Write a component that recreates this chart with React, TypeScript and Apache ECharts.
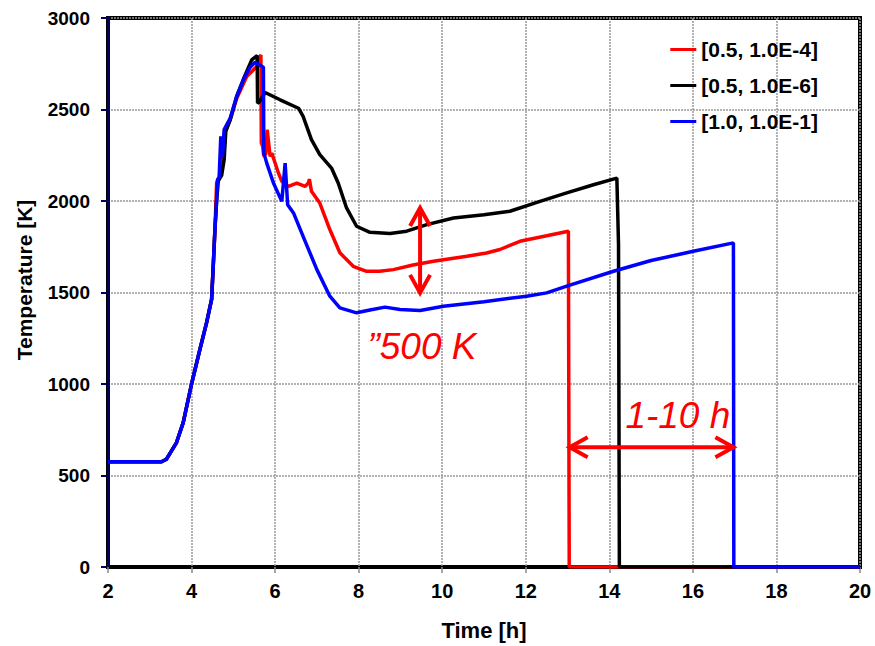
import React, { useEffect, useRef } from "react";
import * as echarts from "echarts";

const seriesNames = ["[0.5, 1.0E-4]", "[0.5, 1.0E-6]", "[1.0, 1.0E-1]"];
const seriesColors = ["#ff0000", "#000000", "#0000ff"];

const redSeries: [number, number][] = [
  [2, 575], [3.28, 575], [3.4, 589], [3.64, 680], [3.8, 789], [4.0, 1000], [4.2, 1189],
  [4.36, 1335], [4.48, 1462], [4.52, 1650], [4.56, 1844], [4.6, 2100], [4.66, 2120],
  [4.7, 2200], [4.74, 2330], [4.8, 2380], [4.92, 2440], [5.08, 2560], [5.32, 2680],
  [5.56, 2735], [5.64, 2790], [5.66, 2798], [5.67, 2318], [5.7, 2300], [5.73, 2244],
  [5.78, 2260], [5.81, 2389], [5.84, 2330], [5.88, 2244], [5.92, 2262], [6.08, 2153],
  [6.16, 2107], [6.32, 2080], [6.52, 2098], [6.72, 2080], [6.8, 2100], [6.82, 2120],
  [6.87, 2053], [7.07, 1989], [7.31, 1844], [7.55, 1717], [7.87, 1643], [8.19, 1616],
  [8.5, 1616], [8.83, 1625], [9.3, 1650], [9.79, 1671], [10.59, 1698], [11.06, 1716],
  [11.38, 1735], [11.86, 1780], [12.5, 1810], [13.02, 1835], [13.04, 0], [20, 0],
];

const blackSeries: [number, number][] = [
  [2, 575], [3.28, 575], [3.4, 589], [3.64, 680], [3.8, 789], [4.0, 1000], [4.2, 1189],
  [4.36, 1335], [4.48, 1462], [4.52, 1650], [4.56, 1850], [4.6, 2000], [4.64, 2110],
  [4.72, 2140], [4.78, 2226], [4.82, 2380], [4.92, 2440], [5.08, 2571], [5.24, 2665],
  [5.44, 2771], [5.57, 2795], [5.58, 2535], [5.62, 2540], [5.76, 2593], [6.12, 2553],
  [6.56, 2507], [6.67, 2462], [6.87, 2335], [7.07, 2253], [7.35, 2180], [7.51, 2098],
  [7.71, 1962], [7.95, 1862], [8.27, 1829], [8.75, 1822], [9.15, 1835], [9.63, 1871],
  [10.27, 1907], [11.0, 1925], [11.62, 1944], [12.34, 1998], [12.98, 2044], [13.62, 2089],
  [14.18, 2125], [14.22, 1760], [14.24, 0], [20, 0],
];

const blueSeries: [number, number][] = [
  [2, 575], [3.28, 575], [3.4, 589], [3.64, 680], [3.8, 789], [4.0, 1000], [4.2, 1189],
  [4.36, 1335], [4.48, 1462], [4.52, 1650], [4.56, 1844], [4.6, 2000], [4.62, 2116],
  [4.66, 2130], [4.7, 2353], [4.74, 2235], [4.78, 2390], [4.92, 2450], [5.08, 2571],
  [5.24, 2662], [5.4, 2730], [5.52, 2758], [5.72, 2731], [5.73, 2262], [5.8, 2207],
  [5.96, 2098], [6.16, 1998], [6.24, 2207], [6.3, 1980], [6.44, 1935], [6.67, 1807],
  [7.0, 1625], [7.31, 1480], [7.55, 1416], [7.95, 1389], [8.27, 1404], [8.63, 1420],
  [8.99, 1407], [9.47, 1402], [10.03, 1425], [11.0, 1450], [12.02, 1480], [12.5, 1498],
  [12.98, 1535], [14.1, 1616], [15.0, 1675], [16.01, 1725], [16.97, 1771], [16.98, 0],
  [20, 0],
];

// annotation arrows: [x1, y1, x2, y2] in data units
const annotationArrows: [number, number, number, number][] = [
  [9.47, 1962, 9.47, 1498],
  [13.05, 655, 16.97, 655],
];
// annotation texts: [x, y] in data units
const annotationTextPoints: [number, number][] = [
  [9.515, 1205],
  [15.64, 829],
];
const annotationTexts = ["\u201d500 K", "1-10 h"];

const xTicks = { min: 2, max: 20, interval: 2 };
const yTicks = { min: 0, max: 3000, interval: 500 };

const FONT = '"Liberation Sans", Arial, sans-serif';

export default function App() {
  const ref = useRef<HTMLDivElement>(null);

  useEffect(() => {
    if (!ref.current) return;
    const chart = echarts.init(ref.current, undefined, { renderer: "svg" });
    const dataSets = [redSeries, blackSeries, blueSeries];

    const option: any = {
      animation: false,
      backgroundColor: "#ffffff",
      grid: {
        left: 108,
        right: 15,
        top: 18,
        bottom: 78,
        show: true,
        borderColor: "#000",
        borderWidth: 4,
        backgroundColor: "transparent",
      },
      legend: {
        data: seriesNames,
        orient: "vertical",
        right: 52,
        top: 34,
        icon: "rect",
        itemWidth: 26,
        itemHeight: 3,
        itemGap: 15,
        textStyle: {
          fontSize: 21,
          fontWeight: "bold",
          fontFamily: FONT,
          color: "#000",
          lineHeight: 21,
        },
      },
      xAxis: {
        type: "value",
        min: xTicks.min,
        max: xTicks.max,
        interval: xTicks.interval,
        name: "Time [h]",
        nameLocation: "middle",
        nameGap: 63,
        nameTextStyle: {
          fontSize: 22,
          fontWeight: "bold",
          fontFamily: FONT,
          color: "#000",
          verticalAlign: "middle",
        },
        axisLine: { show: true, onZero: false, lineStyle: { color: "#000", width: 3 } },
        axisTick: { show: true, length: 6, lineStyle: { color: "#888", width: 1.5 } },
        axisLabel: {
          margin: 14,
          fontSize: 20,
          fontWeight: "bold",
          fontFamily: FONT,
          color: "#000",
          formatter: (v: number) => String(v),
        },
        splitLine: {
          show: true,
          lineStyle: { color: "#999999", width: 1.5, type: [2, 1] },
        },
      },
      yAxis: {
        type: "value",
        min: yTicks.min,
        max: yTicks.max,
        interval: yTicks.interval,
        axisLine: { show: true, onZero: false, lineStyle: { color: "#000060", width: 3 } },
        axisTick: { show: true, length: 7, lineStyle: { color: "#000060", width: 2 } },
        axisLabel: {
          margin: 18,
          fontSize: 19,
          fontWeight: "bold",
          fontFamily: FONT,
          color: "#000",
          formatter: (v: number) => String(v),
        },
        splitLine: {
          show: true,
          lineStyle: { color: "#999999", width: 1.5, type: [2, 1] },
        },
      },
      graphic: [
        {
          type: "text",
          x: 24,
          y: 280,
          rotation: Math.PI / 2,
          style: {
            text: "Temperature [K]",
            font: `bold 21px ${FONT}`,
            fill: "#000",
            align: "center",
            verticalAlign: "middle",
          },
        },
      ],
      series: [
        ...dataSets.map((d, i) => ({
          name: seriesNames[i],
          type: "line",
          data: d,
          symbol: "none",
          showSymbol: false,
          color: seriesColors[i],
          itemStyle: { color: seriesColors[i] },
          lineStyle: { color: seriesColors[i], width: 3.5 },
          z: 2 + i,
        })),
        {
          type: "custom",
          name: "arrows",
          silent: true,
          z: 10,
          clip: false,
          data: annotationArrows,
          encode: { x: [0, 2], y: [1, 3] },
          renderItem: (params: any, api: any) => {
            const p1 = api.coord([api.value(0), api.value(1)]);
            const p2 = api.coord([api.value(2), api.value(3)]);
            const dx = p2[0] - p1[0];
            const dy = p2[1] - p1[1];
            const len = Math.sqrt(dx * dx + dy * dy) || 1;
            const ux = dx / len;
            const uy = dy / len;
            const nx = -uy;
            const ny = ux;
            const L = 18;
            const W = 10;
            const stroke = { stroke: "#ff0000", lineWidth: 4, fill: null, lineJoin: "miter" };
            return {
              type: "group",
              children: [
                {
                  type: "line",
                  shape: { x1: p1[0], y1: p1[1], x2: p2[0], y2: p2[1] },
                  style: { stroke: "#ff0000", lineWidth: 4 },
                },
                {
                  type: "polyline",
                  shape: {
                    points: [
                      [p2[0] - ux * L + nx * W, p2[1] - uy * L + ny * W],
                      [p2[0], p2[1]],
                      [p2[0] - ux * L - nx * W, p2[1] - uy * L - ny * W],
                    ],
                  },
                  style: stroke,
                },
                {
                  type: "polyline",
                  shape: {
                    points: [
                      [p1[0] + ux * L + nx * W, p1[1] + uy * L + ny * W],
                      [p1[0], p1[1]],
                      [p1[0] + ux * L - nx * W, p1[1] + uy * L - ny * W],
                    ],
                  },
                  style: stroke,
                },
              ],
            };
          },
        },
        {
          type: "custom",
          name: "notes",
          silent: true,
          z: 10,
          clip: false,
          data: annotationTextPoints,
          encode: { x: 0, y: 1 },
          renderItem: (params: any, api: any) => {
            const p = api.coord([api.value(0), api.value(1)]);
            return {
              type: "text",
              x: p[0],
              y: p[1],
              style: {
                text: annotationTexts[params.dataIndex],
                font: `italic 37px ${FONT}`,
                fill: "#ff0000",
                align: "center",
                verticalAlign: "middle",
              },
            };
          },
        },
      ],
    };

    chart.setOption(option);
    return () => chart.dispose();
  }, []);

  return (
    <div
      ref={ref}
      style={{ position: "fixed", left: 0, top: 0, width: 875, height: 646, background: "#fff" }}
    />
  );
}
